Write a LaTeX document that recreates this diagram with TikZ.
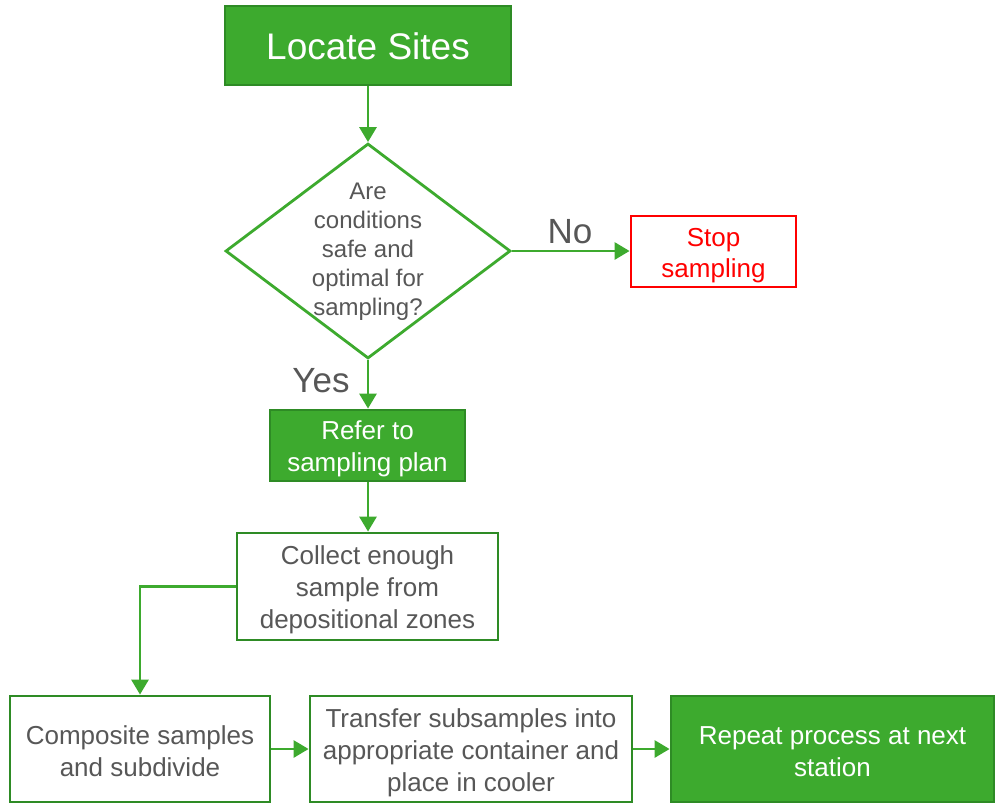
\documentclass[tikz,border=0pt]{standalone}
\usepackage{fontspec}
\setmainfont{Liberation Sans}
\usetikzlibrary{shapes.geometric,arrows.meta}
\definecolor{leaf}{RGB}{61,170,46}
\definecolor{leafdark}{RGB}{46,139,37}
\definecolor{inkgray}{RGB}{87,87,87}
\definecolor{alarm}{RGB}{255,0,0}
\tikzset{
  solidbox/.style={rectangle, draw=leafdark, fill=leaf, line width=2.8pt, inner sep=0pt},
  openbox/.style={rectangle, draw=leafdark, fill=white, line width=2.8pt, inner sep=0pt},
  boxtext/.style={align=center, inner sep=0pt, text=inkgray, font=\fontsize{26}{32}\selectfont},
  flow/.style={draw=leaf, line width=2.8pt, -{Triangle[length=15pt,width=17pt]}},
  tag/.style={text=inkgray, font=\fontsize{35}{40}\selectfont, inner sep=0pt}
}
\begin{document}
\begin{tikzpicture}[x=1pt,y=-1pt]
\useasboundingbox (0,0) rectangle (999,807);

% start box
\node[solidbox, minimum width=286pt, minimum height=79pt] (locate) at (368,45.5) {};
\node[boxtext, text=white, font=\fontsize{37}{42}\selectfont] (locate-t)
  at ([yshift=-1pt]locate.center) {Locate Sites};

% decision
\node[diamond, draw=leaf, fill=white, line width=2.8pt, minimum width=285pt,
  minimum height=215pt, inner sep=0pt] (check) at (368,251) {};
\node[boxtext, font=\fontsize{24}{29}\selectfont] (check-t)
  at ([yshift=-1pt]check.center) {Are\\conditions\\safe and\\optimal for\\sampling?};

% stop branch
\node[rectangle, draw=alarm, fill=white, line width=2.8pt, inner sep=0pt,
  minimum width=165pt, minimum height=71pt] (stop) at (713.5,251.5) {};
\node[boxtext, text=alarm, font=\fontsize{26}{31}\selectfont] (stop-t)
  at ([yshift=-4pt]stop.center) {Stop\\sampling};

% main steps
\node[solidbox, minimum width=195pt, minimum height=71pt] (refer) at (367.5,445.5) {};
\node[boxtext, text=white] (refer-t) at ([yshift=-3pt]refer.center)
  {Refer to\\sampling plan};

\node[openbox, minimum width=261pt, minimum height=107pt] (collect) at (367.5,586.5) {};
\node[boxtext] (collect-t) at ([yshift=-3.5pt]collect.center)
  {Collect enough\\sample from\\depositional zones};

\node[openbox, minimum width=260pt, minimum height=106pt] (composite) at (140,749) {};
\node[boxtext] (composite-t) at ([yshift=-2.5pt]composite.center)
  {Composite samples\\and subdivide};

\node[openbox, minimum width=322pt, minimum height=106pt] (transfer) at (471,749) {};
\node[boxtext] (transfer-t) at ([yshift=-3.5pt]transfer.center)
  {Transfer subsamples into\\appropriate container and\\place in cooler};

\node[solidbox, minimum width=323pt, minimum height=106pt] (repeat) at (832.5,749) {};
\node[boxtext, text=white] (repeat-t) at ([yshift=-3pt]repeat.center)
  {Repeat process at next\\station};

% branch labels
\node[tag] (no) at (570,232) {No};
\node[tag] (yes) at (321,381) {Yes};

\coordinate (bend) at (composite.north |- collect.west);

% connectors
\draw[flow] (locate.south) -- (check.north);
\draw[flow] (check.east) -- (check.east -| stop.west);
\draw[flow] (check.south) -- (check.south |- refer.north);
\draw[flow] (refer.south -| check.south) -- (check.south |- collect.north);
\draw[flow] (collect.west) -- (bend) -- (composite.north);
\draw[flow] (composite.east) -- (transfer.west);
\draw[flow] (transfer.east) -- (repeat.west);
\end{tikzpicture}
\end{document}
